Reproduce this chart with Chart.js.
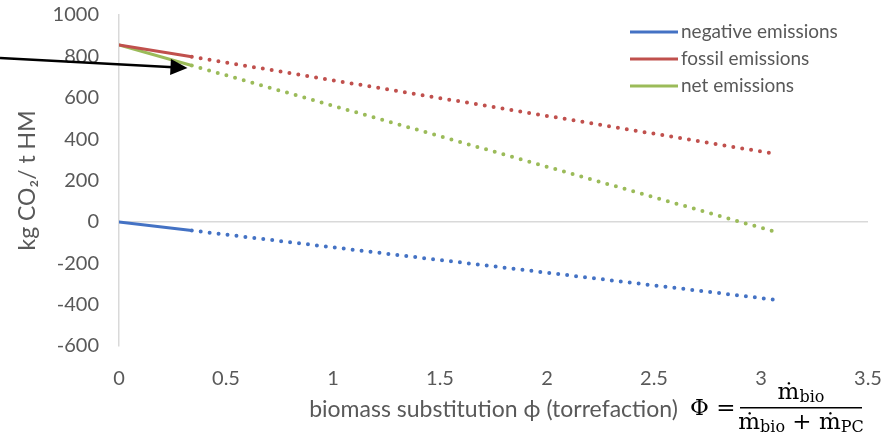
<!DOCTYPE html>
<html>
<head>
    <title>biomass substitution</title>
    <script src="https://cdn.jsdelivr.net/npm/chart.js"></script>
    <style>
        body { margin: 0; background: #fff; }
        .chart-container { width: 894px; height: 439px; }
    </style>
</head>
<body>
    <div class="chart-container">
        <canvas id="emissionChart"></canvas>
    </div>

    <script>
        // 数据
        const phi = [0, 0.34, 3.07];
        const negativeEmissions = [0, -42, -377];
        const fossilEmissions = [855, 798, 328];
        const netEmissions = [855, 756, -49];
        const seriesLabels = ['negative emissions', 'fossil emissions', 'net emissions'];
        const seriesColors = ['#4472C4', '#C0504D', '#9BBB59'];

        // 箭头 (数据坐标)
        const arrowTail = { x: -0.556, y: 792 };
        const arrowTip = { x: 0.32, y: 744 };

        const textColor = '#595959';
        const fontFamily = 'Lato, "Liberation Sans", sans-serif';

        function toPoints(ys) {
            return phi.map((x, i) => ({ x: x, y: ys[i] }));
        }

        function makeDataset(label, ys, color) {
            return {
                label: label,
                data: toPoints(ys),
                borderColor: color,
                backgroundColor: color,
                borderWidth: 3,
                borderCapStyle: 'round',
                pointRadius: 0,
                showLine: true,
                fill: false,
                segment: {
                    borderDash: ctx => ctx.p0DataIndex >= 1 ? [0, 9] : undefined,
                    borderWidth: ctx => ctx.p0DataIndex >= 1 ? 4 : 3
                }
            };
        }

        // 图例 + 箭头 + 公式
        const extras = {
            id: 'extras',
            afterDraw(chart) {
                const ctx = chart.ctx;
                const area = chart.chartArea;
                const xs = chart.scales.x, ys = chart.scales.y;

                // 图例
                ctx.save();
                ctx.font = '19px ' + fontFamily;
                ctx.textBaseline = 'middle';
                chart.data.datasets.forEach((ds, i) => {
                    const y = 32 + i * 27;
                    const x0 = area.right - 238;
                    ctx.strokeStyle = ds.borderColor;
                    ctx.lineWidth = 3;
                    ctx.beginPath();
                    ctx.moveTo(x0, y);
                    ctx.lineTo(x0 + 48, y);
                    ctx.stroke();
                    ctx.fillStyle = textColor;
                    ctx.fillText(ds.label, x0 + 51, y);
                });
                ctx.restore();

                // 箭头
                const tx = xs.getPixelForValue(arrowTail.x), ty = ys.getPixelForValue(arrowTail.y);
                const hx = xs.getPixelForValue(arrowTip.x), hy = ys.getPixelForValue(arrowTip.y);
                const ang = Math.atan2(hy - ty, hx - tx);
                ctx.save();
                ctx.strokeStyle = '#000';
                ctx.fillStyle = '#000';
                ctx.lineWidth = 2.5;
                ctx.beginPath();
                ctx.moveTo(tx, ty);
                ctx.lineTo(hx - 14 * Math.cos(ang), hy - 14 * Math.sin(ang));
                ctx.stroke();
                ctx.beginPath();
                ctx.moveTo(hx, hy);
                ctx.lineTo(hx - 17 * Math.cos(ang) + 8 * Math.sin(ang), hy - 17 * Math.sin(ang) - 8 * Math.cos(ang));
                ctx.lineTo(hx - 17 * Math.cos(ang) - 8 * Math.sin(ang), hy - 17 * Math.sin(ang) + 8 * Math.cos(ang));
                ctx.closePath();
                ctx.fill();
                ctx.restore();

                // 公式 Φ = ṁbio / (ṁbio + ṁPC)
                ctx.save();
                ctx.fillStyle = '#000';
                ctx.textBaseline = 'alphabetic';
                const big = '23px "DejaVu Serif", serif';
                const small = '16px "DejaVu Serif", serif';
                const barY = chart.height - 32;
                const barL = area.right - 128, barR = area.right - 6;
                function runWidth(parts) {
                    return parts.reduce((w, p) => { ctx.font = p[1]; return w + ctx.measureText(p[0]).width; }, 0);
                }
                function drawRun(parts, cx, y) {
                    let x = cx - runWidth(parts) / 2;
                    parts.forEach(p => {
                        ctx.font = p[1];
                        ctx.fillText(p[0], x, y + (p[2] || 0));
                        x += ctx.measureText(p[0]).width;
                    });
                }
                ctx.font = big;
                ctx.textAlign = 'left';
                ctx.fillText('\u03A6 =', barL - 50, barY + 8);
                const cx = (barL + barR) / 2;
                drawRun([['\u1E41', big], ['bio', small, 3]], cx, barY - 8);
                drawRun([['\u1E41', big], ['bio', small, 3], [' + ', big], ['\u1E41', big], ['PC', small, 3]], cx, barY + 22);
                ctx.fillRect(barL, barY, barR - barL, 1.5);
                ctx.restore();
            }
        };

        const tickLabel = value => String(value);

        const chartCtx = document.getElementById('emissionChart').getContext('2d');
        new Chart(chartCtx, {
            type: 'scatter',
            data: {
                datasets: seriesLabels.map((label, i) =>
                    makeDataset(label, [negativeEmissions, fossilEmissions, netEmissions][i], seriesColors[i]))
            },
            options: {
                responsive: true,
                maintainAspectRatio: false,
                animation: false,
                layout: { padding: { left: 14, right: 26, top: 15, bottom: 16 } },
                plugins: {
                    legend: { display: false },
                    tooltip: { enabled: false }
                },
                scales: {
                    x: {
                        type: 'linear',
                        min: 0,
                        max: 3.5,
                        afterFit: scale => {
                            scale.height = 77;
                            scale.paddingLeft = 0;
                            scale.paddingRight = 0;
                        },
                        ticks: { stepSize: 0.5, callback: tickLabel, color: textColor, font: { family: fontFamily, size: 20 }, padding: 21 },
                        grid: { display: false, drawTicks: false },
                        border: { display: false },
                        title: {
                            display: true,
                            text: 'biomass substitution \u03D5 (torrefaction)',
                            color: textColor,
                            font: { family: fontFamily, size: 23 },
                            padding: { top: 6, bottom: 0 }
                        }
                    },
                    y: {
                        min: -600,
                        max: 1000,
                        afterFit: scale => {
                            scale.width = 105;
                            scale.paddingTop = 0;
                            scale.paddingBottom = 0;
                        },
                        ticks: { stepSize: 200, callback: tickLabel, color: textColor, font: { family: fontFamily, size: 20 }, padding: 20 },
                        grid: {
                            drawTicks: false,
                            color: ctx => ctx.tick && ctx.tick.value === 0 ? '#D9D9D9' : 'transparent',
                            lineWidth: 1.5
                        },
                        border: { display: true, color: '#D9D9D9', width: 1.5 },
                        title: {
                            display: true,
                            text: 'kg CO\u2082/ t HM',
                            color: textColor,
                            font: { family: fontFamily, size: 23 },
                            padding: { top: 0, bottom: 0 }
                        }
                    }
                }
            },
            plugins: [extras]
        });
    </script>
</body>
</html>
